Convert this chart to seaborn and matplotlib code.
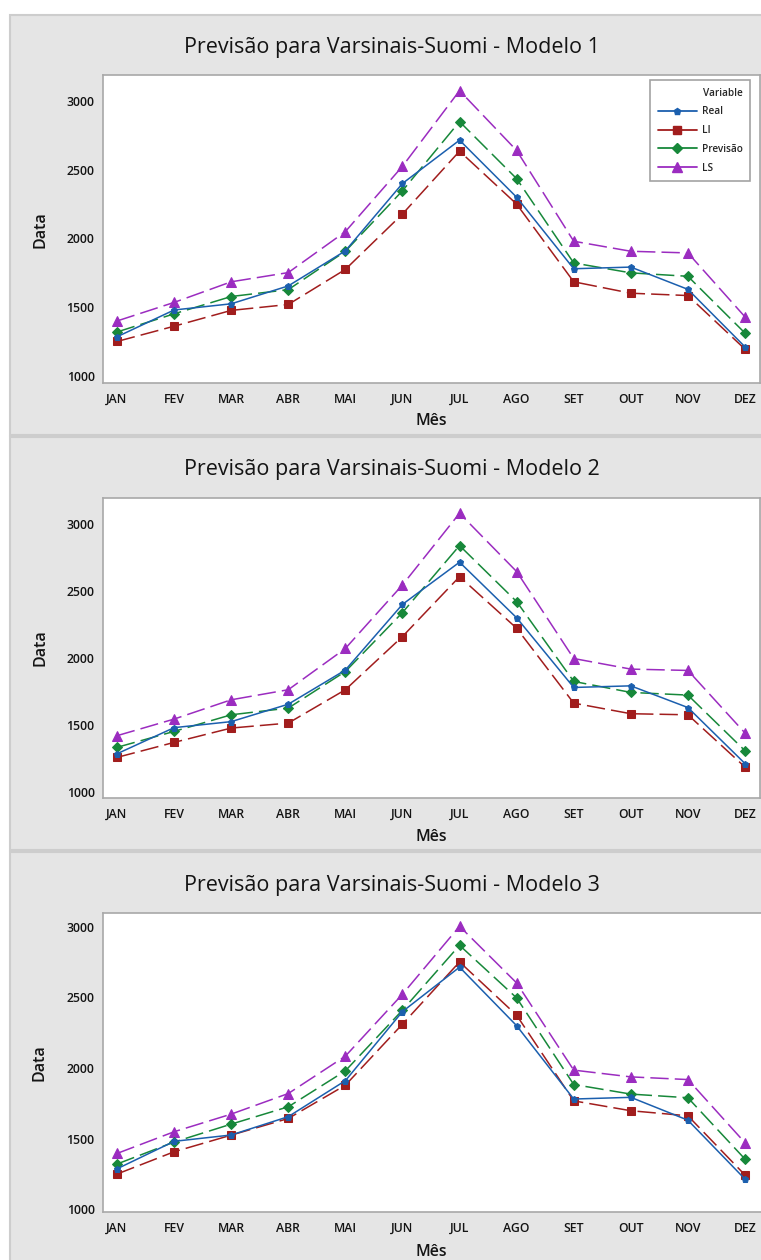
import matplotlib
matplotlib.use('Agg')
import matplotlib.pyplot as plt
import seaborn as sns
import pandas as pd
from matplotlib.patches import Rectangle
from matplotlib.lines import Line2D

# ---------------- data ----------------
meses = ['JAN', 'FEV', 'MAR', 'ABR', 'MAI', 'JUN', 'JUL', 'AGO', 'SET', 'OUT', 'NOV', 'DEZ']
real = [1285, 1480, 1525, 1655, 1910, 2400, 2715, 2300, 1780, 1792, 1630, 1212]

li_m1 = [1251, 1362, 1477, 1520, 1775, 2178, 2635, 2250, 1685, 1602, 1585, 1195]
prev_m1 = [1320, 1452, 1578, 1628, 1907, 2347, 2850, 2435, 1822, 1750, 1725, 1312]
ls_m1 = [1400, 1535, 1685, 1752, 2050, 2525, 3075, 2640, 1980, 1907, 1895, 1430]

li_m2 = [1258, 1370, 1477, 1514, 1763, 2160, 2607, 2222, 1663, 1584, 1576, 1186]
prev_m2 = [1333, 1452, 1576, 1626, 1899, 2339, 2839, 2421, 1825, 1743, 1723, 1308]
ls_m2 = [1420, 1544, 1688, 1763, 2071, 2545, 3080, 2645, 1996, 1917, 1907, 1440]

li_m3 = [1248, 1406, 1524, 1642, 1878, 2311, 2752, 2374, 1767, 1697, 1661, 1241]
prev_m3 = [1319, 1475, 1602, 1725, 1980, 2410, 2870, 2497, 1883, 1815, 1789, 1354]
ls_m3 = [1394, 1548, 1673, 1819, 2084, 2523, 3005, 2603, 1985, 1937, 1918, 1470]

series_names = ['Real', 'LI', 'Previsão', 'LS']
modelos = [
    ('Previsão para Varsinais-Suomi - Modelo 1', li_m1, prev_m1, ls_m1),
    ('Previsão para Varsinais-Suomi - Modelo 2', li_m2, prev_m2, ls_m2),
    ('Previsão para Varsinais-Suomi - Modelo 3', li_m3, prev_m3, ls_m3),
]
yticks = [1000, 1500, 2000, 2500, 3000]

# ---------------- style ----------------
sns.set_style('white')
plt.rcParams['font.family'] = ['Open Sans', 'DejaVu Sans']

colors = {'Real': '#1b5fae', 'LI': '#a11d1d', 'Previsão': '#17883a', 'LS': '#9b2cc0'}
markers = {'Real': 'p', 'LI': 's', 'Previsão': 'D', 'LS': '^'}
msizes = {'Real': 4.5, 'LI': 5.2, 'Previsão': 5.5, 'LS': 6.5}
dashes = {'Real': (1, 0), 'LI': (12, 4), 'Previsão': (12, 4), 'LS': (12, 4)}

W, H = 761, 1260
fig = plt.figure(figsize=(W / 100, H / 100), dpi=100)
fig.patch.set_facecolor('white')


def fx(px):
    return px / W


def fy(py):
    return 1 - py / H


# panel layout in pixels
layout = [
    (15, 435, 75, 383, 760, 47, 421, 230, 949, 3189),
    (437, 850, 498, 798, 760, 470, 837, 648, 955, 3194),
    (852, 1275, 913, 1212, 790, 885, 1252, 1063, 979, 3099),
]

ax_left = 103
jan_px, dez_px = 117, 745
step = (dez_px - jan_px) / 11
txt = '#141414'

for (title, li, prev, ls), (pt, pb, at, ab, ar, ty, xly, yly, ymin, ymax) in zip(modelos, layout):
    fig.add_artist(Rectangle((fx(10), fy(pb)), fx(W + 20 - 10), (pb - pt) / H,
                             transform=fig.transFigure, facecolor='#e5e5e5',
                             edgecolor='#cdcdcd', lw=1.5, zorder=0))
    ax = fig.add_axes([fx(ax_left), fy(ab), (ar - ax_left) / W, (ab - at) / H])
    ax.set_facecolor('white')

    rows = []
    for name, vals in zip(series_names, [real, li, prev, ls]):
        for i, v in enumerate(vals):
            rows.append({'pos': i, 'Mês': meses[i], 'Data': v, 'Variable': name})
    df = pd.DataFrame(rows)

    for name in ['LS', 'Previsão', 'LI', 'Real']:
        sub = df[df['Variable'] == name]
        sns.lineplot(data=sub, x='pos', y='Data', ax=ax, color=colors[name],
                     marker=markers[name], markersize=msizes[name],
                     markeredgecolor=colors[name], lw=1.1,
                     dashes=dashes[name], legend=False)

    x0 = -(jan_px - ax_left) / step
    x1 = 11 + (ar - dez_px) / step
    ax.set_xlim(x0, x1)
    ax.set_ylim(ymin, ymax)
    ax.set_xticks(range(len(meses)))
    ax.set_xticklabels(meses)
    ax.set_yticks(yticks)
    ax.set_yticklabels([str(t) for t in yticks])
    ax.tick_params(axis='both', labelsize=8.8, length=4, width=1, color='#9a9a9a',
                   labelcolor=txt, direction='out', pad=2)
    ax.tick_params(axis='x', pad=3)
    for lab in ax.get_xticklabels() + ax.get_yticklabels():
        lab.set_fontweight('semibold')
    for sp in ax.spines.values():
        sp.set_color('#a8a8a8')
        sp.set_linewidth(1.2)
        sp.set_visible(True)

    ax.set_xlabel('Mês', fontsize=11.5, color=txt, fontweight='semibold')
    ax.set_ylabel('Data', fontsize=11.5, color=txt, fontweight='semibold')
    ax.xaxis.set_label_coords((431 - ax_left) / (ar - ax_left), (ab - xly) / (ab - at))
    ax.xaxis.label.set_va('center')
    ax.yaxis.set_label_coords((40 - ax_left) / (ar - ax_left), (ab - yly) / (ab - at))
    ax.yaxis.label.set_va('center')

    fig.text(fx(392), fy(ty), title, ha='center', va='center', fontsize=15.5, color=txt)

    if title.endswith('1'):
        handles = [Line2D([0], [0], color=colors[n], marker=markers[n], markersize=msizes[n],
                          lw=1.3, markeredgecolor=colors[n]) for n in series_names]
        leg = ax.legend(handles, series_names, title='Variable', loc='upper right',
                        bbox_to_anchor=((750 - ax_left) / (ar - ax_left), 1 - (80 - at) / (ab - at)),
                        borderaxespad=0, prop={'size': 7.2, 'weight': 'semibold'},
                        title_fontproperties={'size': 7.2, 'weight': 'semibold'},
                        handlelength=3.9, labelspacing=0.78, borderpad=0.75, frameon=True,
                        fancybox=False, edgecolor='#8c8c8c', alignment='right',
                        handletextpad=0.5)
        leg.get_frame().set_linewidth(1.2)

fig.savefig('out.png', dpi=100, facecolor='white')
